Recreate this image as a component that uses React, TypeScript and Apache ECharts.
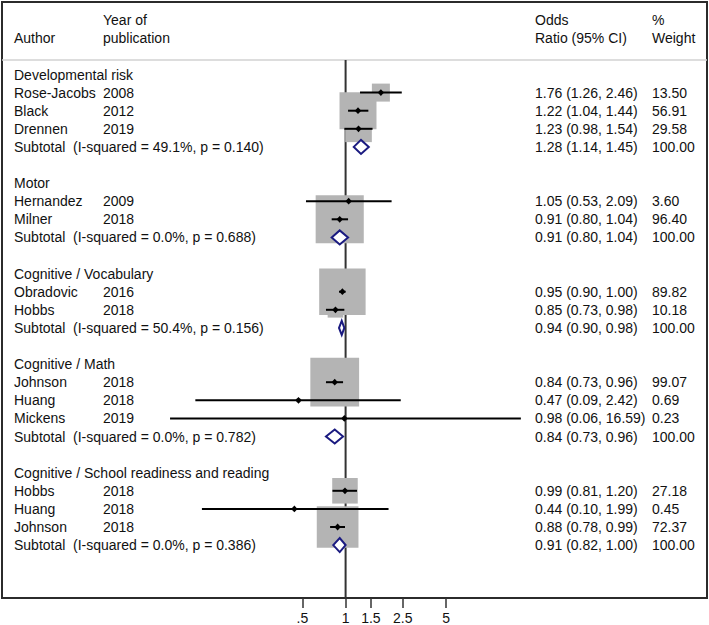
import React, { useEffect, useRef } from "react";
import * as echarts from "echarts";

// ---------- data ----------
const groupNames = [
  "Developmental risk",
  "Motor",
  "Cognitive / Vocabulary",
  "Cognitive / Math",
  "Cognitive / School readiness and reading",
];
const studyGroup = [0, 0, 0, 1, 1, 2, 2, 3, 3, 3, 4, 4, 4];
const studyAuthor = [
  "Rose-Jacobs", "Black", "Drennen", "Hernandez", "Milner", "Obradovic", "Hobbs",
  "Johnson", "Huang", "Mickens", "Hobbs", "Huang", "Johnson",
];
const studyYear = ["2008", "2012", "2019", "2009", "2018", "2016", "2018", "2018", "2018", "2019", "2018", "2018", "2018"];
const studyOR = [1.76, 1.22, 1.23, 1.05, 0.91, 0.95, 0.85, 0.84, 0.47, 0.98, 0.99, 0.44, 0.88];
const studyLo = [1.26, 1.04, 0.98, 0.53, 0.8, 0.9, 0.73, 0.73, 0.09, 0.06, 0.81, 0.1, 0.78];
const studyHi = [2.46, 1.44, 1.54, 2.09, 1.04, 1.0, 0.98, 0.96, 2.42, 16.59, 1.2, 1.99, 0.99];
const studyWeight = [13.5, 56.91, 29.58, 3.6, 96.4, 89.82, 10.18, 99.07, 0.69, 0.23, 27.18, 0.45, 72.37];
const subI2 = ["49.1", "0.0", "50.4", "0.0", "0.0"];
const subP = ["0.140", "0.688", "0.156", "0.782", "0.386"];
const subOR = [1.28, 0.91, 0.94, 0.84, 0.91];
const subLo = [1.14, 0.8, 0.9, 0.73, 0.82];
const subHi = [1.45, 1.04, 0.98, 0.96, 1.0];
const tickValues = [0.5, 1, 1.5, 2.5, 5];
const tickLabels = [".5", "1", "1.5", "2.5", "5"];

// ---------- layout / style ----------
const FONT = '"Liberation Sans", Arial, Helvetica, sans-serif';
const FS = 14;
const TEXT_COLOR = "#111";
const COL_AUTHOR = 14;
const COL_YEAR = 103;
const COL_SUBSTAT = 73;
const COL_OR = 535;
const COL_W = 652;
const GRID_L = 2, GRID_T = 2, GRID_W = 705, GRID_H = 596;
const X_ZERO_PX = 345.6; // pixel of OR = 1
const PX_PER_LN = 62.4;
const ROW0_PX = 74.5;
const ROW_H = 18.1;
const BOX_K = 4.9;
const DIAMOND_HALF_H = 7;

const fmt = (v: number) => v.toFixed(2);
const ln = Math.log;

export default function App() {
  const ref = useRef<HTMLDivElement>(null);

  useEffect(() => {
    document.body.style.margin = "0";
    if (!ref.current) return;
    const chart = echarts.init(ref.current, undefined, { renderer: "svg" });

    const xMin = (GRID_L - X_ZERO_PX) / PX_PER_LN;
    const xMax = (GRID_L + GRID_W - X_ZERO_PX) / PX_PER_LN;
    const yMin = (GRID_T - ROW0_PX) / ROW_H;
    const yMax = (GRID_T + GRID_H - ROW0_PX) / ROW_H;
    const headerLineRow = (60 - ROW0_PX) / ROW_H;

    // build rows
    type T = { x: number; row: number; text: string };
    const texts: T[] = [];
    const studyRow: number[] = [];
    const subRow: number[] = [];
    texts.push({ x: COL_YEAR, row: -3, text: "Year of" });
    texts.push({ x: COL_AUTHOR, row: -2, text: "Author" });
    texts.push({ x: COL_YEAR, row: -2, text: "publication" });
    texts.push({ x: COL_OR, row: -3, text: "Odds" });
    texts.push({ x: COL_OR, row: -2, text: "Ratio (95% CI)" });
    texts.push({ x: COL_W, row: -3, text: "%" });
    texts.push({ x: COL_W, row: -2, text: "Weight" });
    let r = 0;
    groupNames.forEach((g, gi) => {
      texts.push({ x: COL_AUTHOR, row: r, text: g });
      r++;
      studyGroup.forEach((sg, si) => {
        if (sg !== gi) return;
        studyRow[si] = r;
        texts.push({ x: COL_AUTHOR, row: r, text: studyAuthor[si] });
        texts.push({ x: COL_YEAR, row: r, text: studyYear[si] });
        texts.push({ x: COL_OR, row: r, text: `${fmt(studyOR[si])} (${fmt(studyLo[si])}, ${fmt(studyHi[si])})` });
        texts.push({ x: COL_W, row: r, text: fmt(studyWeight[si]) });
        r++;
      });
      subRow[gi] = r;
      texts.push({ x: COL_AUTHOR, row: r, text: "Subtotal" });
      texts.push({ x: COL_SUBSTAT, row: r, text: `(I-squared = ${subI2[gi]}%, p = ${subP[gi]})` });
      texts.push({ x: COL_OR, row: r, text: `${fmt(subOR[gi])} (${fmt(subLo[gi])}, ${fmt(subHi[gi])})` });
      texts.push({ x: COL_W, row: r, text: "100.00" });
      r += 2;
    });

    const option: any = {
      animation: false,
      grid: {
        show: true,
        left: GRID_L,
        top: GRID_T,
        width: GRID_W,
        height: GRID_H,
        borderColor: "#2b2b2b",
        borderWidth: 2,
        backgroundColor: "transparent",
      },
      xAxis: [
        {
          type: "value",
          min: xMin,
          max: xMax,
          position: "bottom",
          axisLine: { show: false, onZero: false },
          splitLine: { show: false },
          axisTick: {
            show: true,
            length: 10,
            customValues: tickValues.map(ln),
            lineStyle: { color: "#333", width: 1.5 },
          },
          axisLabel: {
            show: true,
            customValues: tickValues.map(ln),
            margin: 13,
            fontSize: FS,
            fontFamily: FONT,
            color: TEXT_COLOR,
            formatter: (v: number) => {
              const i = tickValues.findIndex((t) => Math.abs(ln(t) - v) < 1e-6);
              return i >= 0 ? tickLabels[i] : "";
            },
          },
        },
        { type: "value", min: GRID_L, max: GRID_L + GRID_W, show: false },
      ],
      yAxis: { type: "value", inverse: true, min: yMin, max: yMax, show: false },
      series: [
        {
          type: "line",
          xAxisIndex: 1,
          z: 1,
          symbol: "none",
          silent: true,
          lineStyle: { color: "#d2d2d2", width: 1.5 },
          data: [
            [GRID_L, headerLineRow],
            [GRID_L + GRID_W, headerLineRow],
          ],
        },
        {
          type: "line",
          xAxisIndex: 0,
          z: 2,
          symbol: "none",
          silent: true,
          lineStyle: { color: "#333", width: 2 },
          data: [
            [ln(1), headerLineRow],
            [ln(1), yMax],
          ],
        },
        {
          type: "custom",
          xAxisIndex: 0,
          z: 3,
          silent: true,
          data: studyOR.map((o, i) => [ln(o), studyRow[i], studyWeight[i]]),
          renderItem: (params: any, api: any) => {
            const p = api.coord([api.value(0), api.value(1)]);
            const s = BOX_K * Math.sqrt(api.value(2));
            return {
              type: "rect",
              shape: { x: p[0] - s / 2, y: p[1] - s / 2, width: s, height: s },
              style: { fill: "#b4b4b4" },
            };
          },
        },
        {
          type: "custom",
          xAxisIndex: 0,
          z: 4,
          silent: true,
          encode: { x: [0, 1, 3], y: 2 },
          data: studyOR.map((o, i) => [ln(studyLo[i]), ln(studyHi[i]), studyRow[i], ln(o)]),
          renderItem: (params: any, api: any) => {
            const a = api.coord([api.value(0), api.value(2)]);
            const b = api.coord([api.value(1), api.value(2)]);
            const c = api.coord([api.value(3), api.value(2)]);
            return {
              type: "group",
              children: [
                {
                  type: "line",
                  shape: { x1: a[0], y1: a[1], x2: b[0], y2: b[1] },
                  style: { stroke: "#000", lineWidth: 2 },
                },
                {
                  type: "polygon",
                  shape: {
                    points: [
                      [c[0] - 3.2, c[1]],
                      [c[0], c[1] - 3.4],
                      [c[0] + 3.2, c[1]],
                      [c[0], c[1] + 3.4],
                    ],
                  },
                  style: { fill: "#000" },
                },
              ],
            };
          },
        },
        {
          type: "custom",
          xAxisIndex: 0,
          z: 5,
          silent: true,
          encode: { x: [0, 1, 3], y: 2 },
          data: subOR.map((o, i) => [ln(subLo[i]), ln(subHi[i]), subRow[i], ln(o)]),
          renderItem: (params: any, api: any) => {
            const a = api.coord([api.value(0), api.value(2)]);
            const b = api.coord([api.value(1), api.value(2)]);
            const c = api.coord([api.value(3), api.value(2)]);
            return {
              type: "polygon",
              shape: {
                points: [
                  [a[0], a[1]],
                  [c[0], c[1] - DIAMOND_HALF_H],
                  [b[0], b[1]],
                  [c[0], c[1] + DIAMOND_HALF_H],
                ],
              },
              style: { fill: "#fff", stroke: "#1a1a80", lineWidth: 2, lineJoin: "miter" },
            };
          },
        },
        {
          type: "custom",
          xAxisIndex: 1,
          z: 6,
          silent: true,
          data: texts.map((t) => [t.x, t.row]),
          renderItem: (params: any, api: any) => {
            const t = texts[params.dataIndex];
            const p = api.coord([api.value(0), api.value(1)]);
            return {
              type: "text",
              x: p[0],
              y: p[1],
              style: {
                text: t.text,
                fill: TEXT_COLOR,
                fontSize: FS,
                fontFamily: FONT,
                align: "left",
                verticalAlign: "middle",
              },
            };
          },
        },
      ],
    };

    chart.setOption(option);
    return () => chart.dispose();
  }, []);

  return <div ref={ref} style={{ width: 709, height: 625 }} />;
}
